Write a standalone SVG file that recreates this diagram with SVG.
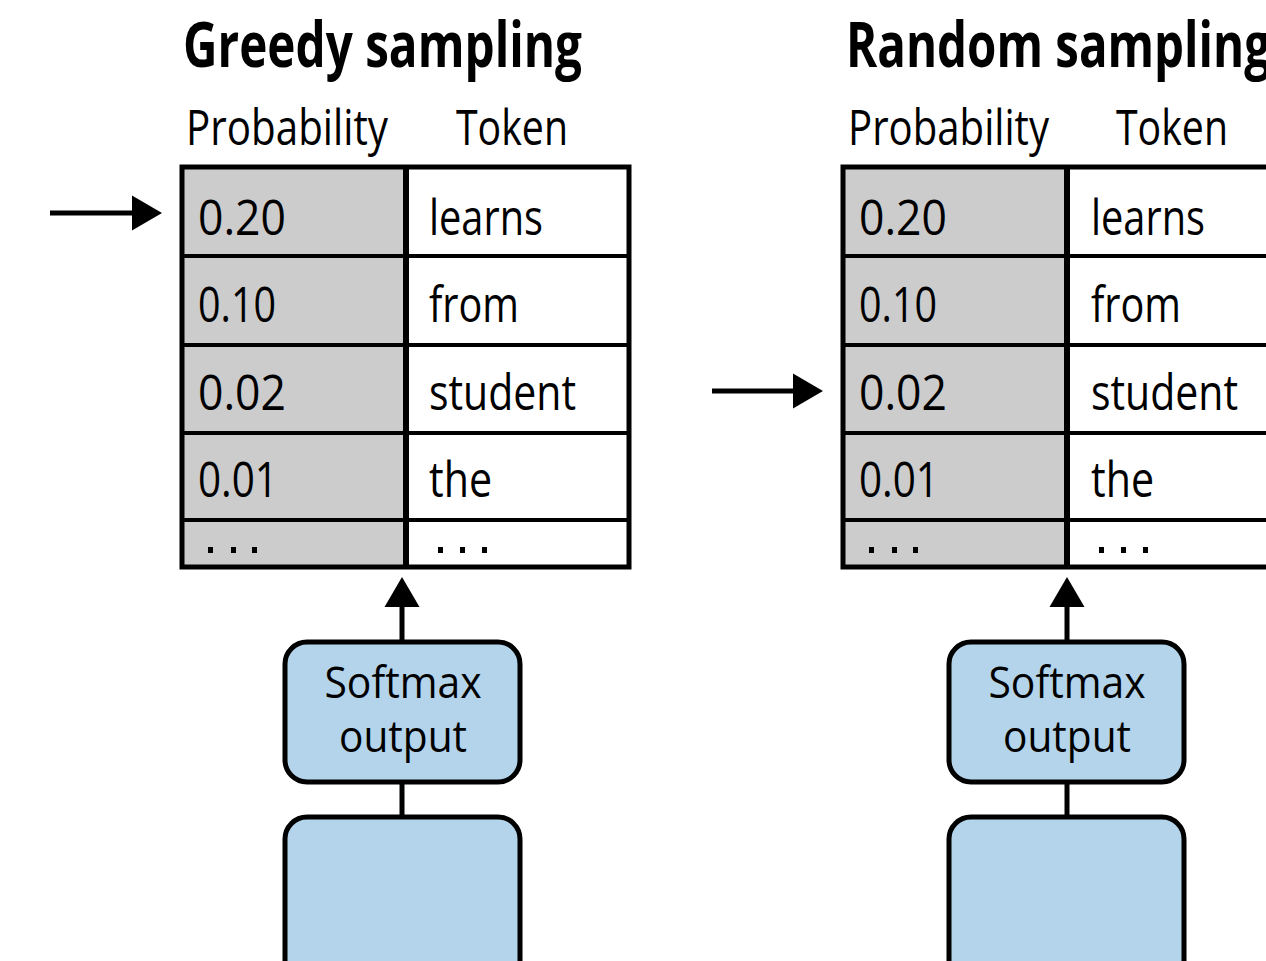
<svg xmlns="http://www.w3.org/2000/svg" width="1266" height="961" viewBox="0 0 1266 961">
  <style>
    .title { font-family: "Open Sans", "Noto Sans", "Liberation Sans", sans-serif; font-weight: 700; font-size: 62px; fill: #000; }
    .head { font-family: "Open Sans", "Noto Sans", "Liberation Sans", sans-serif; font-size: 50px; fill: #000; }
    .cell { font-family: "Open Sans", "Noto Sans", "Liberation Sans", sans-serif; font-size: 50px; fill: #000; }
    .box-label { font-family: "Open Sans", "Noto Sans", "Liberation Sans", sans-serif; font-size: 43px; fill: #000; text-anchor: middle; }
    .prob { fill: #cccccc; }
    .tok { fill: #ffffff; }
    .frame { fill: none; stroke: #000; stroke-width: 5; }
    .row { stroke: #000; stroke-width: 4; }
    .divider { stroke: #000; stroke-width: 6; }
    .dot { fill: #000; }
    .block { fill: #b3d4ea; stroke: #000; stroke-width: 5; }
    .link { stroke: #000; stroke-width: 5; fill: none; }
    .arrow { stroke: #000; stroke-width: 5; fill: none; marker-end: url(#head); }
  </style>
  <defs>
    <marker id="head" markerUnits="userSpaceOnUse" viewBox="0 -17.5 30 35" refX="0" refY="0" markerWidth="30" markerHeight="35" orient="auto" overflow="visible">
      <path d="M0,-17.5 L30,0 L0,17.5 Z" fill="#000"/>
    </marker>
  </defs>

  <rect width="1266" height="961" fill="#fff"/>

  <!-- Greedy sampling panel -->
  <g id="greedy-title">
    <text class="title" x="183" y="67" textLength="399" lengthAdjust="spacingAndGlyphs">Greedy sampling</text>
    <text class="head" x="186" y="145" textLength="202" lengthAdjust="spacingAndGlyphs">Probability</text>
    <text class="head" x="456" y="145" textLength="112" lengthAdjust="spacingAndGlyphs">Token</text>
  </g>

  <g id="greedy-table">
    <rect class="prob" x="182" y="167" width="224" height="400"/>
    <rect class="tok" x="406" y="167" width="223" height="400"/>
    <line class="row" x1="182" y1="256" x2="629" y2="256"/>
    <line class="row" x1="182" y1="345" x2="629" y2="345"/>
    <line class="row" x1="182" y1="433" x2="629" y2="433"/>
    <line class="row" x1="182" y1="520" x2="629" y2="520"/>
    <line class="divider" x1="406" y1="167" x2="406" y2="567"/>
    <rect class="frame" x="182" y="167" width="447" height="400"/>
    <text class="cell" x="198" y="235" textLength="88" lengthAdjust="spacingAndGlyphs">0.20</text>
    <text class="cell" x="198" y="322" textLength="78" lengthAdjust="spacingAndGlyphs">0.10</text>
    <text class="cell" x="198" y="410" textLength="88" lengthAdjust="spacingAndGlyphs">0.02</text>
    <text class="cell" x="198" y="497" textLength="80" lengthAdjust="spacingAndGlyphs">0.01</text>
    <text class="cell" x="429" y="235" textLength="114" lengthAdjust="spacingAndGlyphs">learns</text>
    <text class="cell" x="429" y="322" textLength="90" lengthAdjust="spacingAndGlyphs">from</text>
    <text class="cell" x="429" y="410" textLength="147" lengthAdjust="spacingAndGlyphs">student</text>
    <text class="cell" x="429" y="497" textLength="63" lengthAdjust="spacingAndGlyphs">the</text>
    <rect class="dot" x="208" y="547" width="5" height="6"/>
    <rect class="dot" x="231" y="547" width="5" height="6"/>
    <rect class="dot" x="252" y="547" width="5" height="6"/>
    <rect class="dot" x="438" y="547" width="5" height="6"/>
    <rect class="dot" x="460" y="547" width="5" height="6"/>
    <rect class="dot" x="482" y="547" width="5" height="6"/>
  </g>

  <g id="greedy-softmax">
    <rect class="block" x="285" y="642" width="235" height="140" rx="22"/>
    <text class="box-label" x="403" y="698" textLength="157" lengthAdjust="spacingAndGlyphs">Softmax</text>
    <text class="box-label" x="403" y="752" textLength="128" lengthAdjust="spacingAndGlyphs">output</text>
  </g>

  <g id="greedy-model">
    <rect class="block" x="285" y="817" width="235" height="200" rx="22"/>
  </g>

  <!-- Random sampling panel -->
  <g id="random-title">
    <text class="title" x="846" y="67" textLength="425" lengthAdjust="spacingAndGlyphs">Random sampling</text>
    <text class="head" x="848" y="145" textLength="201" lengthAdjust="spacingAndGlyphs">Probability</text>
    <text class="head" x="1116" y="145" textLength="112" lengthAdjust="spacingAndGlyphs">Token</text>
  </g>

  <g id="random-table">
    <rect class="prob" x="843" y="167" width="224" height="400"/>
    <rect class="tok" x="1067" y="167" width="223" height="400"/>
    <line class="row" x1="843" y1="256" x2="1290" y2="256"/>
    <line class="row" x1="843" y1="345" x2="1290" y2="345"/>
    <line class="row" x1="843" y1="433" x2="1290" y2="433"/>
    <line class="row" x1="843" y1="520" x2="1290" y2="520"/>
    <line class="divider" x1="1067" y1="167" x2="1067" y2="567"/>
    <rect class="frame" x="843" y="167" width="447" height="400"/>
    <text class="cell" x="859" y="235" textLength="88" lengthAdjust="spacingAndGlyphs">0.20</text>
    <text class="cell" x="859" y="322" textLength="78" lengthAdjust="spacingAndGlyphs">0.10</text>
    <text class="cell" x="859" y="410" textLength="88" lengthAdjust="spacingAndGlyphs">0.02</text>
    <text class="cell" x="859" y="497" textLength="80" lengthAdjust="spacingAndGlyphs">0.01</text>
    <text class="cell" x="1091" y="235" textLength="114" lengthAdjust="spacingAndGlyphs">learns</text>
    <text class="cell" x="1091" y="322" textLength="90" lengthAdjust="spacingAndGlyphs">from</text>
    <text class="cell" x="1091" y="410" textLength="147" lengthAdjust="spacingAndGlyphs">student</text>
    <text class="cell" x="1091" y="497" textLength="63" lengthAdjust="spacingAndGlyphs">the</text>
    <rect class="dot" x="869" y="547" width="5" height="6"/>
    <rect class="dot" x="892" y="547" width="5" height="6"/>
    <rect class="dot" x="913" y="547" width="5" height="6"/>
    <rect class="dot" x="1099" y="547" width="5" height="6"/>
    <rect class="dot" x="1121" y="547" width="5" height="6"/>
    <rect class="dot" x="1143" y="547" width="5" height="6"/>
  </g>

  <g id="random-softmax">
    <rect class="block" x="949" y="642" width="235" height="140" rx="22"/>
    <text class="box-label" x="1067" y="698" textLength="157" lengthAdjust="spacingAndGlyphs">Softmax</text>
    <text class="box-label" x="1067" y="752" textLength="128" lengthAdjust="spacingAndGlyphs">output</text>
  </g>

  <g id="random-model">
    <rect class="block" x="949" y="817" width="235" height="200" rx="22"/>
  </g>

  <!-- Connectors -->
  <g id="connectors">
    <line class="arrow" x1="50" y1="213" x2="132" y2="213"/>
    <line class="arrow" x1="712" y1="391" x2="793" y2="391"/>
    <line class="arrow" x1="402" y1="642" x2="402" y2="607"/>
    <line class="link" x1="402" y1="782" x2="402" y2="817"/>
    <line class="arrow" x1="1067" y1="642" x2="1067" y2="607"/>
    <line class="link" x1="1067" y1="782" x2="1067" y2="817"/>
  </g>
</svg>
